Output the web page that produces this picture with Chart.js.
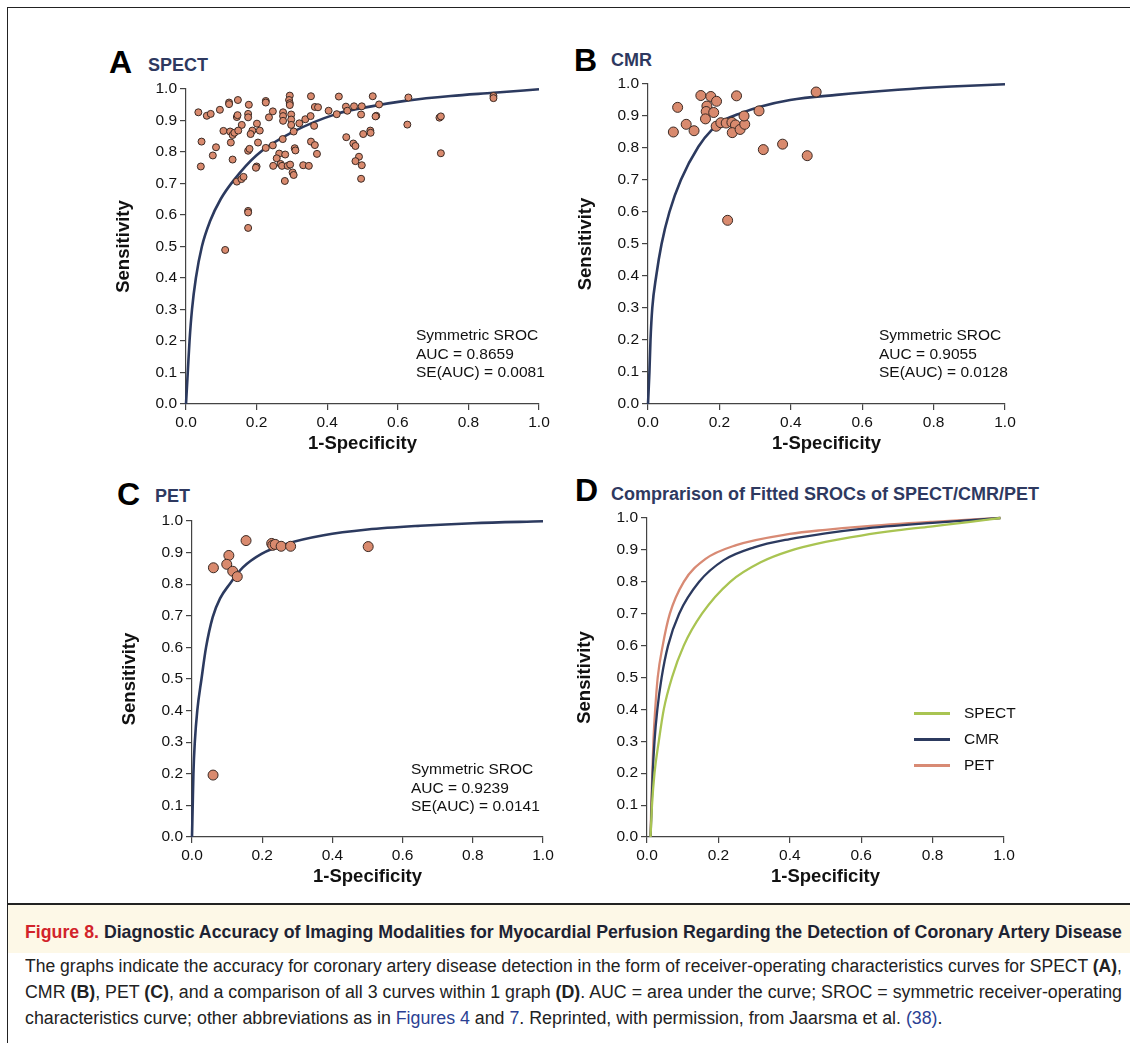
<!DOCTYPE html>
<html>
<head>
<meta charset="utf-8">
<script src="https://cdn.jsdelivr.net/npm/chart.js@4.4.1/dist/chart.umd.min.js"></script>
<style>
  body { margin: 0; background: #fff; }
  #page { position: relative; width: 1130px; height: 1043px; overflow: hidden; font-family: 'Liberation Sans', Arial, Helvetica, sans-serif; color: #111; }
  canvas { position: absolute; }
  .frame { position: absolute; left: 7px; top: 7px; right: -5px; bottom: -5px; border-top: 1.5px solid #222; border-left: 1.5px solid #222; }
  .letter { position: absolute; font-weight: bold; font-size: 32px; line-height: 1; color: #000; }
  .ptitle { position: absolute; font-weight: bold; font-size: 18px; line-height: 1; color: #2e3960; }
  .note { position: absolute; font-size: 15.5px; line-height: 18.5px; color: #111; }
  .legend { position: absolute; left: 914px; font-size: 15.5px; line-height: 1; }
  .legend span.ln { position: absolute; left: 0; top: 7px; width: 36px; height: 2.5px; }
  .legend span.tx { position: absolute; left: 50px; top: 0; white-space: nowrap; }
  .caphead { position: absolute; left: 8px; right: 0; top: 903px; height: 48px; background: #fdf8e7; border-top: 2.5px solid #222; }
  .cap { position: absolute; left: 25px; white-space: nowrap; line-height: 1.2; }
  .cap > span { display: inline-block; transform-origin: 0 50%; }
  .cap b { font-weight: bold; }
  .blue { color: #2b3f93; }
</style>
</head>
<body>
<div id="page">
  <div class="frame"></div>

  <div class="letter" style="left:109px; top:46px;">A</div>
  <div class="ptitle" style="left:148px; top:56px;">SPECT</div>
  <div class="letter" style="left:574px; top:44px;">B</div>
  <div class="ptitle" style="left:611px; top:51px;">CMR</div>
  <div class="letter" style="left:117px; top:478px;">C</div>
  <div class="ptitle" style="left:155px; top:487px;">PET</div>
  <div class="letter" style="left:575px; top:474px;">D</div>
  <div class="ptitle" style="left:611px; top:485px;">Comprarison of Fitted SROCs of SPECT/CMR/PET</div>

  <canvas id="chartA"></canvas>
  <canvas id="chartB"></canvas>
  <canvas id="chartC"></canvas>
  <canvas id="chartD"></canvas>

  <div class="note" style="left:416px; top:326px;">Symmetric SROC<br>AUC = 0.8659<br>SE(AUC) = 0.0081</div>
  <div class="note" style="left:879px; top:326px;">Symmetric SROC<br>AUC = 0.9055<br>SE(AUC) = 0.0128</div>
  <div class="note" style="left:411px; top:760px;">Symmetric SROC<br>AUC = 0.9239<br>SE(AUC) = 0.0141</div>

  <div class="legend" style="top:705px;"><span class="ln" style="background:#a9c452"></span><span class="tx">SPECT</span></div>
  <div class="legend" style="top:731px;"><span class="ln" style="background:#2c3a5f"></span><span class="tx">CMR</span></div>
  <div class="legend" style="top:757px;"><span class="ln" style="background:#d88a74"></span><span class="tx">PET</span></div>

  <div class="caphead"></div>
  <div class="cap" data-fit="1" style="top:921px; font-size:18.5px; font-weight:bold; color:#1d2333;"><span><span style="color:#d2232a">Figure 8.</span> Diagnostic Accuracy of Imaging Modalities for Myocardial Perfusion Regarding the Detection of Coronary Artery Disease</span></div>
  <div class="cap" data-fit="1" style="top:956px; font-size:18px; color:#222;"><span>The graphs indicate the accuracy for coronary artery disease detection in the form of receiver-operating characteristics curves for SPECT <b>(A)</b>,</span></div>
  <div class="cap" data-fit="1" style="top:982px; font-size:18px; color:#222;"><span>CMR <b>(B)</b>, PET <b>(C)</b>, and a comparison of all 3 curves within 1 graph <b>(D)</b>. AUC = area under the curve; SROC = symmetric receiver-operating</span></div>
  <div class="cap" data-fit="0" style="top:1008px; font-size:18px; color:#222;"><span>characteristics curve; other abbreviations as in <span class="blue">Figures 4</span> and <span class="blue">7</span>. Reprinted, with permission, from Jaarsma et al. <span class="blue">(38)</span>.</span></div>
</div>

<script>
// Study points (1-specificity, sensitivity)
const spectFpr = [0.035, 0.059, 0.070, 0.096, 0.122, 0.122, 0.147, 0.178, 0.226, 0.226, 0.294, 0.292, 0.294, 0.294, 0.354, 0.365, 0.374, 0.404, 0.427, 0.433,
  0.453, 0.457, 0.476, 0.498, 0.496, 0.529, 0.539, 0.144, 0.146, 0.176, 0.176, 0.158, 0.106, 0.125, 0.132, 0.137, 0.148, 0.188, 0.183, 0.201,
  0.209, 0.235, 0.246, 0.275, 0.275, 0.275, 0.298, 0.298, 0.298, 0.305, 0.321, 0.338, 0.353, 0.363, 0.274, 0.044, 0.085, 0.076, 0.127, 0.132,
  0.042, 0.176, 0.180, 0.204, 0.226, 0.246, 0.264, 0.257, 0.281, 0.247, 0.200, 0.198, 0.268, 0.272, 0.288, 0.295, 0.302, 0.305, 0.280, 0.308,
  0.310, 0.332, 0.348, 0.354, 0.365, 0.371, 0.454, 0.474, 0.480, 0.502, 0.522, 0.523, 0.490, 0.480, 0.498, 0.496, 0.144, 0.157, 0.163, 0.176,
  0.176, 0.176, 0.111, 0.547, 0.630, 0.537, 0.627, 0.718, 0.722, 0.722, 0.871, 0.871];
const spectSens = [0.926, 0.915, 0.921, 0.934, 0.957, 0.952, 0.965, 0.950, 0.962, 0.957, 0.979, 0.965, 0.955, 0.949, 0.977, 0.943, 0.942, 0.931, 0.920, 0.976,
  0.944, 0.931, 0.945, 0.945, 0.919, 0.977, 0.915, 0.911, 0.917, 0.921, 0.910, 0.886, 0.867, 0.865, 0.854, 0.861, 0.868, 0.868, 0.857, 0.890,
  0.868, 0.910, 0.929, 0.926, 0.914, 0.899, 0.919, 0.903, 0.886, 0.865, 0.891, 0.904, 0.914, 0.883, 0.841, 0.833, 0.815, 0.789, 0.830, 0.776,
  0.754, 0.804, 0.810, 0.830, 0.813, 0.821, 0.795, 0.780, 0.792, 0.756, 0.754, 0.750, 0.762, 0.756, 0.756, 0.760, 0.735, 0.727, 0.708, 0.812,
  0.805, 0.758, 0.756, 0.833, 0.822, 0.794, 0.847, 0.827, 0.819, 0.857, 0.868, 0.861, 0.785, 0.771, 0.758, 0.715, 0.706, 0.714, 0.721, 0.613,
  0.608, 0.559, 0.489, 0.951, 0.973, 0.913, 0.887, 0.909, 0.913, 0.796, 0.978, 0.971];

const cmrFpr = [0.071, 0.083, 0.107, 0.129, 0.148, 0.176, 0.192, 0.165, 0.163, 0.161, 0.184, 0.191, 0.204, 0.219, 0.235, 0.245, 0.248, 0.236,
  0.258, 0.271, 0.269, 0.311, 0.323, 0.377, 0.446, 0.471, 0.223];
const cmrSens = [0.850, 0.927, 0.874, 0.854, 0.964, 0.961, 0.946, 0.931, 0.914, 0.891, 0.911, 0.868, 0.879, 0.878, 0.880, 0.872, 0.963, 0.848,
  0.858, 0.874, 0.900, 0.916, 0.795, 0.812, 0.776, 0.975, 0.574];

const petFpr = [0.061, 0.105, 0.099, 0.116, 0.129, 0.154, 0.227, 0.230, 0.237, 0.254, 0.281, 0.502, 0.060];
const petSens = [0.852, 0.891, 0.863, 0.841, 0.824, 0.938, 0.929, 0.923, 0.926, 0.920, 0.920, 0.919, 0.196];

// Fitted symmetric SROC curves
const spectCurveX = [0, 0.005, 0.010, 0.017, 0.028, 0.045, 0.068, 0.098, 0.135, 0.200, 0.300, 0.427, 0.521, 0.630, 0.750, 0.871, 1.0];
const spectCurveY = [0, 0.100, 0.200, 0.300, 0.400, 0.500, 0.580, 0.650, 0.710, 0.790, 0.862, 0.921, 0.944, 0.964, 0.978, 0.988, 0.999];
const cmrCurveX = [0, 0.004, 0.007, 0.012, 0.023, 0.038, 0.060, 0.092, 0.141, 0.178, 0.216, 0.258, 0.314, 0.398, 0.528, 0.700, 0.850, 1.0];
const cmrCurveY = [0, 0.100, 0.200, 0.300, 0.400, 0.500, 0.600, 0.700, 0.804, 0.856, 0.888, 0.908, 0.929, 0.950, 0.966, 0.982, 0.992, 0.999];
const petCurveX = [0, 0.002, 0.004, 0.008, 0.015, 0.027, 0.040, 0.059, 0.080, 0.107, 0.145, 0.198, 0.270, 0.375, 0.500, 0.650, 0.800, 1.0];
const petCurveY = [0, 0.100, 0.200, 0.300, 0.400, 0.500, 0.600, 0.696, 0.755, 0.800, 0.853, 0.896, 0.928, 0.955, 0.973, 0.985, 0.993, 0.999];

// Panel D comparison curves
const cmpSpectX = [0.010, 0.014, 0.021, 0.033, 0.047, 0.070, 0.103, 0.154, 0.233, 0.320, 0.400, 0.500, 0.600, 0.700, 0.800, 0.900, 0.990];
const cmpSpectY = [0, 0.100, 0.200, 0.300, 0.400, 0.500, 0.600, 0.700, 0.800, 0.862, 0.897, 0.925, 0.945, 0.961, 0.974, 0.987, 1.0];
const cmpCmrX = [0.010, 0.013, 0.016, 0.021, 0.029, 0.041, 0.059, 0.090, 0.146, 0.215, 0.300, 0.400, 0.500, 0.600, 0.800, 0.990];
const cmpCmrY = [0, 0.100, 0.200, 0.300, 0.400, 0.500, 0.600, 0.700, 0.800, 0.868, 0.908, 0.934, 0.952, 0.966, 0.985, 1.0];
const cmpPetX = [0.010, 0.012, 0.015, 0.018, 0.023, 0.030, 0.044, 0.064, 0.103, 0.163, 0.250, 0.400, 0.500, 0.600, 0.800, 0.990];
const cmpPetY = [0, 0.100, 0.200, 0.300, 0.400, 0.500, 0.600, 0.700, 0.800, 0.871, 0.915, 0.950, 0.963, 0.973, 0.988, 1.0];

const yTicks = [0, 0.1, 0.2, 0.3, 0.4, 0.5, 0.6, 0.7, 0.8, 0.9, 1.0];
const xTicks = [0, 0.2, 0.4, 0.6, 0.8, 1.0];

const NAVY = '#2c3a5f';
const SALMON = '#d88a74';
const GREEN = '#a9c452';
const DOT = '#d98a6e';
const FONT = "'Liberation Sans', Arial, Helvetica, sans-serif";

const Y_W = 73, X_H = 51, PAD_T = 14, PAD_R = 22;
const CAP_W = 1097;

const toXY = (xs, ys) => xs.map((x, i) => ({ x, y: ys[i] }));

function curve(xs, ys, color, width) {
    return {
        type: 'line', data: toXY(xs, ys), showLine: true, borderColor: color, borderWidth: width,
        pointRadius: 0, cubicInterpolationMode: 'monotone', fill: false, clip: false, order: 2
    };
}

function dots(xs, ys, r) {
    return {
        type: 'scatter', data: toXY(xs, ys), pointRadius: r, pointBackgroundColor: DOT,
        pointBorderColor: '#3b2a24', pointBorderWidth: 1, showLine: false, clip: false, order: 1
    };
}

function axis(ticksArr, title) {
    return {
        type: 'linear', min: 0, max: 1,
        afterBuildTicks: s => { s.ticks = ticksArr.map(v => ({ value: v })); },
        ticks: { callback: v => Number(v).toFixed(1), autoSkip: false, maxRotation: 0, padding: 3, color: '#111', font: { family: FONT, size: 15.5 } },
        grid: { drawOnChartArea: false, drawTicks: true, tickLength: 6, color: '#444', lineWidth: 1.2 },
        border: { display: true, color: '#444', width: 1.2 },
        title: { display: true, text: title, color: '#111', padding: 0, font: { family: FONT, size: 18.5, weight: 'bold', lineHeight: 1.2 } }
    };
}

function makePanel(id, area, datasets) {
    const canvas = document.getElementById(id);
    const w = Y_W + (area.right - area.left) + PAD_R;
    const h = PAD_T + (area.bottom - area.top) + X_H;
    canvas.width = w;
    canvas.height = h;
    canvas.style.width = w + 'px';
    canvas.style.height = h + 'px';
    canvas.style.left = (area.left - Y_W) + 'px';
    canvas.style.top = (area.top - PAD_T) + 'px';
    const x = axis(xTicks, '1-Specificity');
    x.afterFit = s => { s.height = X_H; };
    const y = axis(yTicks, 'Sensitivity');
    y.afterFit = s => { s.width = Y_W; };
    return new Chart(canvas, {
        type: 'scatter',
        data: { datasets },
        options: {
            responsive: false, animation: false, devicePixelRatio: 1,
            layout: { padding: { top: PAD_T, right: PAD_R, left: 0, bottom: 0 } },
            plugins: { legend: { display: false }, tooltip: { enabled: false } },
            scales: { x, y }
        }
    });
}

makePanel('chartA', { left: 186, top: 89, right: 539, bottom: 404 }, [
    curve(spectCurveX, spectCurveY, NAVY, 2.6),
    dots(spectFpr, spectSens, 3.5)
]);
makePanel('chartB', { left: 648, top: 84, right: 1005, bottom: 404 }, [
    curve(cmrCurveX, cmrCurveY, NAVY, 2.6),
    dots(cmrFpr, cmrSens, 5)
]);
makePanel('chartC', { left: 192, top: 521, right: 543, bottom: 837 }, [
    curve(petCurveX, petCurveY, NAVY, 2.6),
    dots(petFpr, petSens, 5)
]);
makePanel('chartD', { left: 647, top: 518, right: 1004, bottom: 837 }, [
    curve(cmpSpectX, cmpSpectY, GREEN, 2.3),
    curve(cmpCmrX, cmpCmrY, NAVY, 2.3),
    curve(cmpPetX, cmpPetY, SALMON, 2.3)
]);

// Condensed caption: squeeze each full line to the caption width
let lastScale = 0.85;
document.querySelectorAll('.cap').forEach(el => {
    const span = el.firstElementChild;
    const natural = span.getBoundingClientRect().width;
    if (el.dataset.fit === '1') lastScale = CAP_W / natural;
    span.style.transform = 'scaleX(' + lastScale + ')';
});
</script>
</body>
</html>
